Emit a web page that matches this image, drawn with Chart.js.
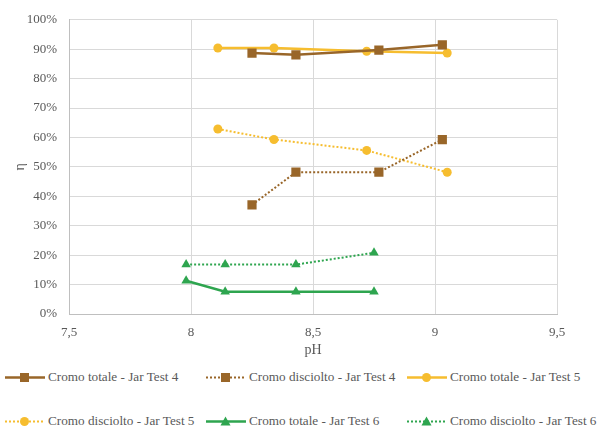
<!DOCTYPE html>
<html>
<head>
<meta charset="utf-8">
<script src="https://cdn.jsdelivr.net/npm/chart.js@4"></script>
<style>
  body { margin: 0; background: #fff; width: 597px; height: 426px; overflow: hidden; position: relative; font-family: "Liberation Serif", "Times New Roman", serif; }
  #wrap { position: absolute; left: 0; top: 0; width: 597px; height: 362px; }
  .leg { position: absolute; font-size: 13.2px; color: #595959; white-space: nowrap; display: flex; align-items: center; font-family: "Liberation Serif", "Times New Roman", serif; }
  .leg svg { margin-right: 3px; }
</style>
</head>
<body>
<div id="wrap"><canvas id="myChart"></canvas></div>
<div id="legend"></div>
<script>
// pH values and removal efficiencies (%)
let ph_jt4 = [8.25, 8.43, 8.77, 9.03]
let tot_jt4 = [88.7, 88.1, 89.7, 91.5]
let dis_jt4 = [37.1, 48.2, 48.2, 59.3]

let ph_jt5 = [8.11, 8.34, 8.72, 9.05]
let tot_jt5 = [90.4, 90.4, 89.3, 88.7]
let dis_jt5 = [62.9, 59.3, 55.6, 48.2]

let ph_jt6 = [7.98, 8.14, 8.43, 8.75]
let tot_jt6 = [11.3, 7.6, 7.6, 7.6]
let dis_jt6 = [16.8, 16.8, 16.8, 20.8]

let series_names = ['Cromo totale - Jar Test 4', 'Cromo disciolto - Jar Test 4', 'Cromo totale - Jar Test 5',
                    'Cromo disciolto - Jar Test 5', 'Cromo totale - Jar Test 6', 'Cromo disciolto - Jar Test 6']

const brown = '#996629'
const yellow = '#F6BD2F'
const green = '#2EA54F'

function pts(xs, ys) {
    return xs.map((x, i) => ({x: x, y: ys[i]}))
}

function ds(label, xs, ys, color, dotted, shape) {
    return {
        label: label,
        data: pts(xs, ys),
        borderColor: color,
        backgroundColor: color,
        borderWidth: dotted ? 2 : 2.5,
        borderDash: dotted ? [2, 2] : [],
        pointStyle: shape,
        pointRadius: shape == 'rect' ? 6.5 : (shape == 'triangle' ? 5.5 : 4.5),
        pointBorderWidth: 0,
        tension: 0
    }
}

let datasets = [
    ds(series_names[0], ph_jt4, tot_jt4, brown, false, 'rect'),
    ds(series_names[1], ph_jt4, dis_jt4, brown, true, 'rect'),
    ds(series_names[2], ph_jt5, tot_jt5, yellow, false, 'circle'),
    ds(series_names[3], ph_jt5, dis_jt5, yellow, true, 'circle'),
    ds(series_names[4], ph_jt6, tot_jt6, green, false, 'triangle'),
    ds(series_names[5], ph_jt6, dis_jt6, green, true, 'triangle')
]

const fam = '"Liberation Serif"'
Chart.defaults.font.family = fam
const tickFont = {family: fam, size: 13}

function drawGraph() {
var ctx = document.getElementById('myChart').getContext('2d');
var chart = new Chart(ctx, {
    type: 'line',
    data: { datasets: datasets },
    options: {
        responsive: true,
        maintainAspectRatio: false,
        animation: false,
        layout: { padding: { left: 0, right: 40, top: 11, bottom: 0 } },
        plugins: { legend: { display: false }, tooltip: { enabled: false } },
        scales: {
            x: {
                type: 'linear',
                min: 7.5, max: 9.5,
                afterFit: s => { s.height = 48 },
                grid: { color: '#d9d9d9', drawTicks: false },
                border: { color: '#bfbfbf' },
                ticks: {
                    stepSize: 0.5, padding: 11, color: '#595959', font: tickFont,
                    callback: v => v.toString().replace('.', ',')
                },
                title: { display: true, text: 'pH', color: '#595959', font: {family: fam, size: 14}, padding: {top: 0, bottom: 3} }
            },
            y: {
                min: 0, max: 100,
                afterFit: s => { s.width = 69 },
                grid: { color: '#d9d9d9', drawTicks: false },
                border: { color: '#bfbfbf' },
                ticks: { stepSize: 10, padding: 12, color: '#595959', font: tickFont, callback: v => v + '%' },
                title: { display: true, text: 'η', color: '#595959', font: {family: fam, size: 14}, padding: {top: 12, bottom: 0} }
            }
        }
    }
});
}

// legend, two rows of three
function symbol(d) {
    let dash = d.borderDash.length ? 'stroke-dasharray="2 2"' : ''
    let c = d.borderColor
    let m = ''
    if (d.pointStyle == 'rect') m = `<rect x="15" y="2" width="9" height="9" fill="${c}"/>`
    else if (d.pointStyle == 'circle') m = `<circle cx="19.5" cy="6.5" r="4.5" fill="${c}"/>`
    else m = `<polygon points="19.5,1.5 24.5,10.5 14.5,10.5" fill="${c}"/>`
    return `<svg width="40" height="13"><line x1="0" y1="6.5" x2="40" y2="6.5" stroke="${c}" stroke-width="${d.borderWidth}" ${dash}/>${m}</svg>`
}
let cols = [5, 206, 407]
let rows = [377, 421]
let html = ''
datasets.forEach((d, i) => {
    let left = cols[i % 3]
    let top = rows[Math.floor(i / 3)] - 8
    html += `<div class="leg" style="left:${left}px;top:${top}px;height:16px">${symbol(d)}<span>${d.label}</span></div>`
})
document.getElementById('legend').innerHTML = html

document.fonts.load('13px "Liberation Serif"').then(drawGraph, drawGraph)
</script>
</body>
</html>
